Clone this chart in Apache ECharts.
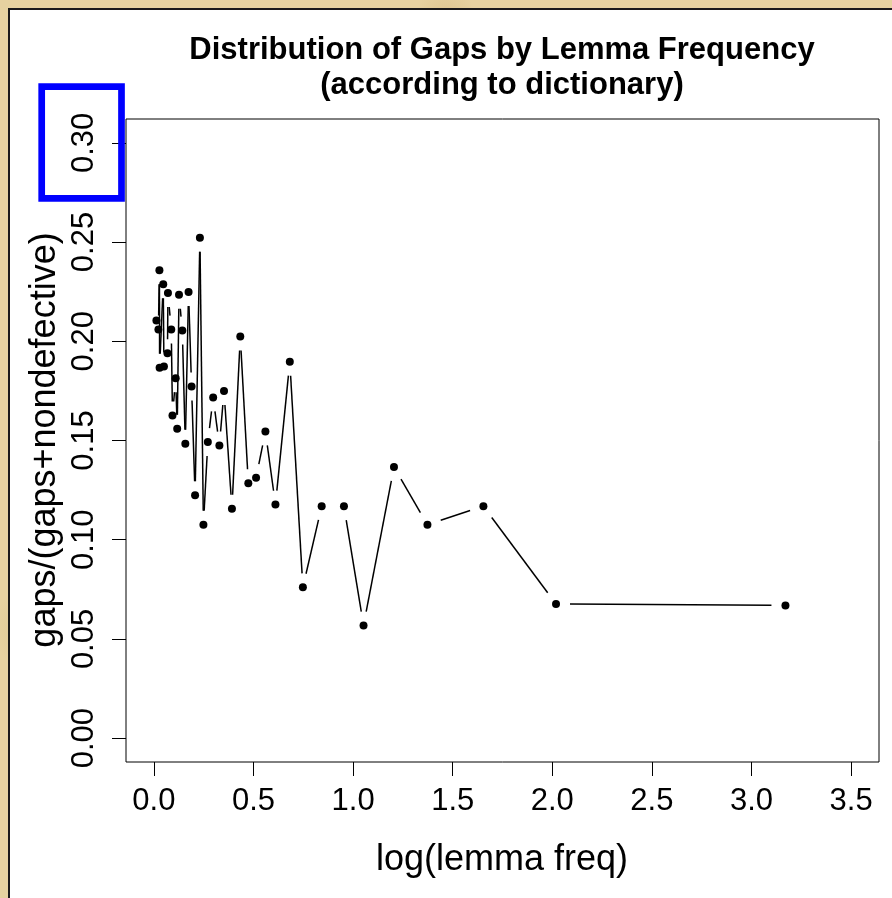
<!DOCTYPE html>
<html>
<head>
<meta charset="utf-8">
<script src="https://cdn.jsdelivr.net/npm/echarts@6/dist/echarts.min.js"></script>
<style>
  html, body { margin: 0; padding: 0; width: 892px; height: 898px; overflow: hidden; }
  body {
    background-color: #e6d2a0;
    background-image:
      radial-gradient(circle at 20% 30%, rgba(190,160,100,0.35) 0, rgba(190,160,100,0) 40px),
      radial-gradient(circle at 70% 10%, rgba(245,230,190,0.6) 0, rgba(245,230,190,0) 60px),
      radial-gradient(circle at 5% 70%, rgba(200,170,110,0.4) 0, rgba(200,170,110,0) 50px),
      radial-gradient(circle at 50% 2%, rgba(210,180,120,0.4) 0, rgba(210,180,120,0) 30px);
    position: relative;
  }
  #panel { position: absolute; left: 8px; top: 8px; width: 900px; height: 900px; background: #fff; border: 2px solid #1a1a1a; box-sizing: border-box; }
  #chart { position: absolute; left: 0; top: 0; width: 892px; height: 898px; }
</style>
</head>
<body>
<div id="panel"></div>
<div id="chart"></div>
<script>
// ---- data ----
const xVals = [0.0126, 0.0227, 0.0277, 0.0287, 0.0469, 0.0504, 0.0681, 0.0706, 0.0872, 0.0933,
               0.1094, 0.1170, 0.1261, 0.1427, 0.1578, 0.1740, 0.1891, 0.2068, 0.2310, 0.2486,
               0.2708, 0.2975, 0.3288, 0.3520, 0.3918, 0.4337, 0.4740, 0.5129, 0.5598, 0.6102,
               0.6823, 0.7479, 0.8422, 0.9541, 1.0524, 1.2052, 1.3732, 1.6541, 2.0187, 3.1704];
const yVals = [0.2105, 0.2059, 0.2358, 0.1867, 0.2287, 0.1873, 0.1940, 0.2243, 0.2059, 0.1626,
               0.1814, 0.1559, 0.2234, 0.2054, 0.1484, 0.2248, 0.1772, 0.1224, 0.2522, 0.1076,
               0.1492, 0.1717, 0.1475, 0.1749, 0.1156, 0.2024, 0.1285, 0.1312, 0.1545, 0.1177,
               0.1897, 0.0760, 0.1169, 0.1169, 0.0568, 0.1366, 0.1076, 0.1169, 0.0676, 0.0669];
const xTicks = [0, 0.5, 1.0, 1.5, 2.0, 2.5, 3.0, 3.5];
const yTicks = [0, 0.05, 0.10, 0.15, 0.20, 0.25, 0.30];
const titleLines = ['Distribution of Gaps by Lemma Frequency', '(according to dictionary)'];
const xName = 'log(lemma freq)';
const yName = 'gaps/(gaps+nondefective)';

const FONT = '"Liberation Sans", Arial, Helvetica, sans-serif';
const GAP = 14;

const points = xVals.map((x, i) => [x, yVals[i]]);
const segs = xVals.slice(0, -1).map((x, i) => [x, yVals[i], xVals[i + 1], yVals[i + 1]]);

const chart = echarts.init(document.getElementById('chart'), null, { renderer: 'canvas' });
chart.setOption({
  animation: false,
  backgroundColor: 'transparent',
  grid: { left: 126, right: 13, top: 119, bottom: 136, show: true, borderColor: '#000', borderWidth: 1, backgroundColor: 'transparent' },
  xAxis: {
    type: 'value', min: -0.14, max: 3.64,
    axisLine: { show: false, onZero: false }, splitLine: { show: false },
    axisTick: { show: true, inside: false, length: 14, lineStyle: { color: '#000', width: 1 }, customValues: xTicks },
    axisLabel: { customValues: xTicks, formatter: v => v.toFixed(1), fontSize: 31, color: '#000', margin: 24, fontFamily: FONT }
  },
  yAxis: {
    type: 'value', min: -0.012, max: 0.312,
    axisLine: { show: false, onZero: false }, splitLine: { show: false },
    axisTick: { show: true, inside: false, length: 14, lineStyle: { color: '#000', width: 1 }, customValues: yTicks },
    axisLabel: { customValues: yTicks, formatter: v => v.toFixed(2), rotate: 90, fontSize: 31, color: '#000', margin: 26, fontFamily: FONT }
  },
  series: [
    {
      type: 'custom',
      data: segs,
      encode: { x: [0, 2], y: [1, 3] },
      renderItem: function (params, api) {
        const p0 = api.coord([api.value(0), api.value(1)]);
        const p1 = api.coord([api.value(2), api.value(3)]);
        const dx = p1[0] - p0[0], dy = p1[1] - p0[1];
        const L = Math.hypot(dx, dy);
        if (L <= 2 * GAP) return null;
        const ux = dx / L, uy = dy / L;
        return {
          type: 'line',
          shape: { x1: p0[0] + ux * GAP, y1: p0[1] + uy * GAP, x2: p1[0] - ux * GAP, y2: p1[1] - uy * GAP },
          style: { stroke: '#000', lineWidth: 1.5 }
        };
      },
      z: 2
    },
    {
      type: 'scatter',
      data: points,
      symbol: 'circle',
      symbolSize: 8,
      itemStyle: { color: '#000', opacity: 1 },
      z: 3
    }
  ],
  graphic: [
    { type: 'text', z: 100, x: 502, y: 50, style: { text: titleLines[0], font: 'bold 31px ' + FONT, fill: '#000', textAlign: 'center', textVerticalAlign: 'middle' } },
    { type: 'text', z: 100, x: 502, y: 85, style: { text: titleLines[1], font: 'bold 31px ' + FONT, fill: '#000', textAlign: 'center', textVerticalAlign: 'middle' } },
    { type: 'text', z: 100, x: 502, y: 860, style: { text: xName, font: '36px ' + FONT, fill: '#000', textAlign: 'center', textVerticalAlign: 'middle' } },
    { type: 'text', z: 100, x: 45, y: 440, rotation: Math.PI / 2, style: { text: yName, font: '36px ' + FONT, fill: '#000', textAlign: 'center', textVerticalAlign: 'middle' } },
    { type: 'rect', z: 200, shape: { x: 41.7, y: 86.7, width: 79.8, height: 111.6 }, style: { fill: 'none', stroke: '#0000ff', lineWidth: 6.7 } }
  ]
});
</script>
</body>
</html>
